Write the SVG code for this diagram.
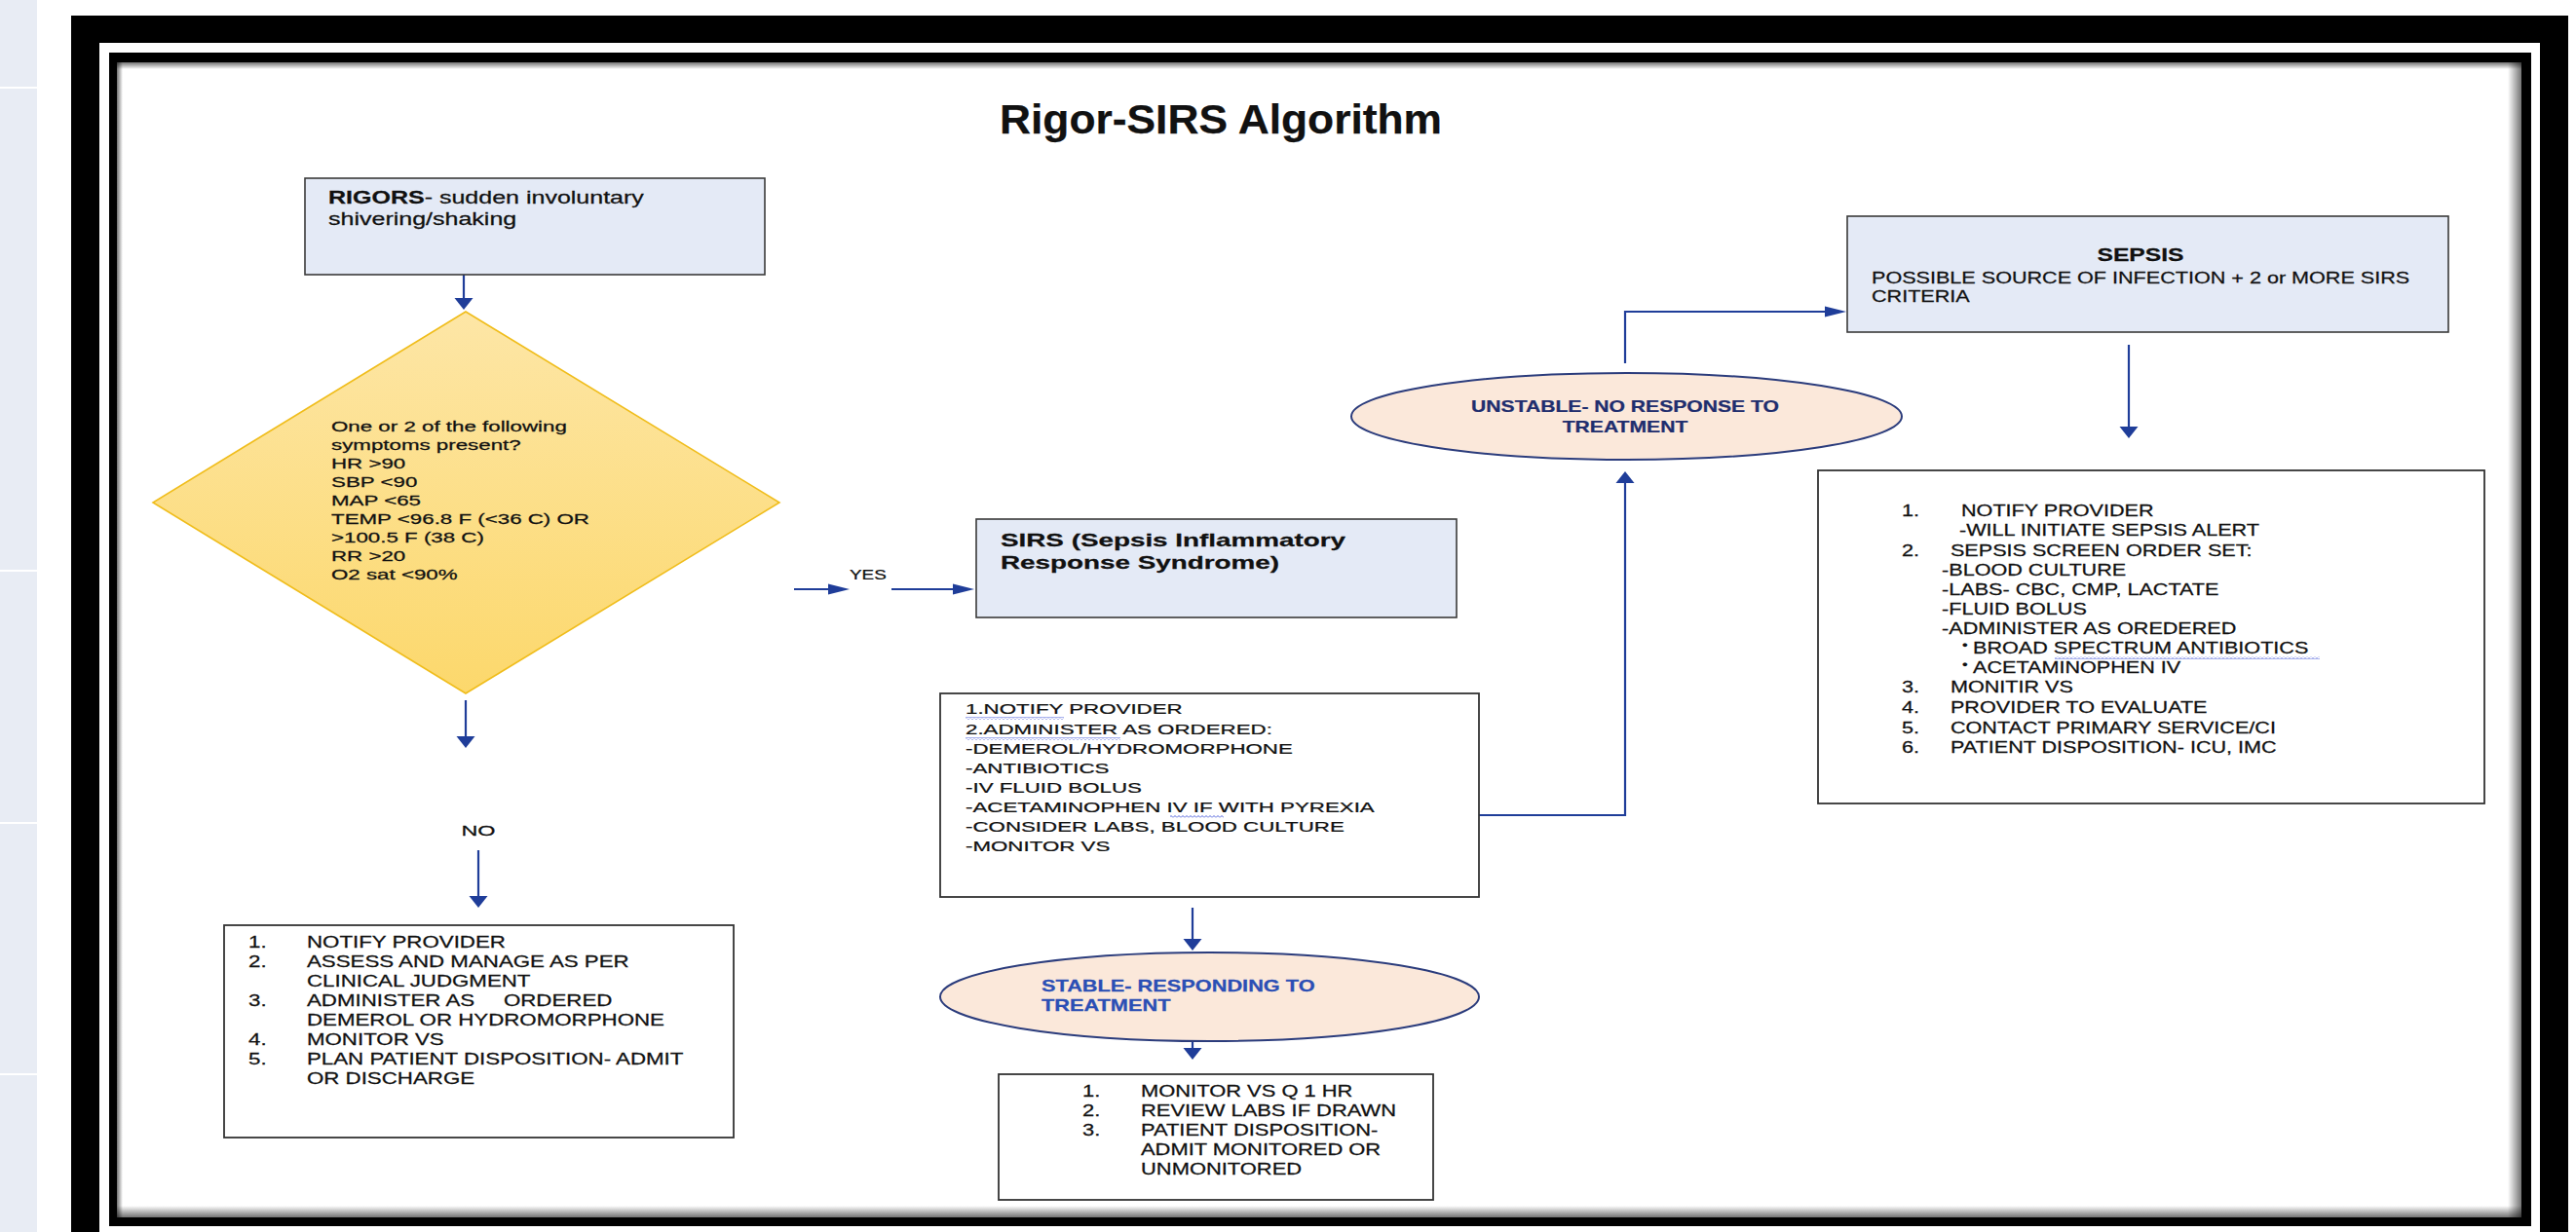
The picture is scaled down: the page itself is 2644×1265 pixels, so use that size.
<svg xmlns="http://www.w3.org/2000/svg" width="2644" height="1265" viewBox="0 0 2644 1265">
<style>
text{font-family:"Liberation Sans",Arial,sans-serif;fill:#111;stroke:#111;stroke-width:0.25}
.b{font-weight:bold}
.conn{fill:none;stroke:#1f3d99;stroke-width:2.2}
.box{fill:#e4eaf6;stroke:#3a3a3a;stroke-width:1.6}
.pbox{fill:#fff;stroke:#333;stroke-width:1.8}
.ell{fill:#fbe8da;stroke:#2b3c7c;stroke-width:2}
.wv{fill:url(#wave)}
</style>
<defs>
<marker id="av" markerUnits="userSpaceOnUse" markerWidth="12" markerHeight="20" viewBox="0 0 12 20" refX="8" refY="10" orient="auto"><path d="M0,0.5 L12,10 L0,19.5 z" fill="#1f3d99"/></marker>
<marker id="ah" markerUnits="userSpaceOnUse" markerWidth="22" markerHeight="12" viewBox="0 0 22 12" refX="16" refY="6" orient="auto"><path d="M0,0.5 L22,6 L0,11.5 z" fill="#1f3d99"/></marker>
<linearGradient id="dia" x1="0" y1="0" x2="0" y2="1"><stop offset="0" stop-color="#fde6a6"/><stop offset="1" stop-color="#fcd86c"/></linearGradient>
<linearGradient id="shT" x1="0" y1="0" x2="0" y2="1"><stop offset="0" stop-color="#000" stop-opacity="0.55"/><stop offset="1" stop-color="#000" stop-opacity="0"/></linearGradient>
<linearGradient id="shB" x1="0" y1="1" x2="0" y2="0"><stop offset="0" stop-color="#000" stop-opacity="0.55"/><stop offset="1" stop-color="#000" stop-opacity="0"/></linearGradient>
<linearGradient id="shL" x1="0" y1="0" x2="1" y2="0"><stop offset="0" stop-color="#000" stop-opacity="0.55"/><stop offset="1" stop-color="#000" stop-opacity="0"/></linearGradient>
<linearGradient id="shR" x1="1" y1="0" x2="0" y2="0"><stop offset="0" stop-color="#000" stop-opacity="0.55"/><stop offset="1" stop-color="#000" stop-opacity="0"/></linearGradient>
<pattern id="wave" patternUnits="userSpaceOnUse" width="4" height="3"><path d="M0,2.5 L2,0.5 L4,2.5" fill="none" stroke="#3f55d8" stroke-width="0.9"/></pattern>
</defs>

<rect x="0" y="0" width="2644" height="1265" fill="#fff"/>
<g id="sidebar">
<rect x="0" y="0" width="38" height="1265" fill="#e8ecf4"/>
<rect x="0" y="89" width="38" height="2" fill="#fff"/>
<rect x="0" y="585" width="38" height="2" fill="#fff"/>
<rect x="0" y="844" width="38" height="2" fill="#fff"/>
<rect x="0" y="1102" width="38" height="2" fill="#fff"/>
</g>
<g id="frame">
<rect x="73" y="16" width="2563" height="1260" fill="#000"/>
<rect x="102" y="44" width="2505" height="1230" fill="#fff"/>
<rect x="112" y="54" width="2486" height="1205" fill="#000"/>
<rect x="120" y="64" width="2468" height="1186" fill="#fff"/>
<rect x="120" y="64" width="2468" height="7" fill="url(#shT)"/>
<rect x="120" y="64" width="6" height="1186" fill="url(#shL)"/>
<rect x="2574" y="64" width="14" height="1186" fill="url(#shR)"/>
<rect x="120" y="1238" width="2468" height="12" fill="url(#shB)"/>
</g>

<g id="title"><text class="b" x="1026" y="137" font-size="42" textLength="454" lengthAdjust="spacingAndGlyphs">Rigor-SIRS Algorithm</text></g>

<g id="connectors">
<path class="conn" d="M476,282 V314" marker-end="url(#av)"/>
<path class="conn" d="M478,719 V764" marker-end="url(#av)"/>
<path class="conn" d="M491,873 V928" marker-end="url(#av)"/>
<path class="conn" d="M815,605 H866" marker-end="url(#ah)"/>
<path class="conn" d="M915,605 H994" marker-end="url(#ah)"/>
<path class="conn" d="M1518,837 H1668 V488" marker-end="url(#av)"/>
<path class="conn" d="M1668,373 V320 H1889" marker-end="url(#ah)"/>
<path class="conn" d="M2185,354 V446" marker-end="url(#av)"/>
<path class="conn" d="M1224,932 V972" marker-end="url(#av)"/>
<path class="conn" d="M1224,1069 V1084" marker-end="url(#av)"/>
<text transform="translate(872,0) scale(1.26,1)" x="0" y="595" font-size="15">YES</text>
<text transform="translate(491,0) scale(1.56,1)" x="0" y="858" font-size="15" text-anchor="middle">NO</text>
</g>

<g id="rigors">
<rect class="box" x="313" y="183" width="472" height="99"/>
<text transform="translate(337,0) scale(1.43,1)" font-size="17.5"><tspan x="0" y="209"><tspan class="b">RIGORS</tspan>- sudden involuntary</tspan><tspan x="0" y="231">shivering/shaking</tspan></text>
</g>

<g id="decision">
<polygon points="478,320 800,516 478,712 157,516" fill="url(#dia)" stroke="#f0bd1c" stroke-width="1.6"/>
<text transform="translate(340,0) scale(1.54,1)" font-size="14.5">
<tspan x="0" y="443">One or 2 of the following</tspan>
<tspan x="0" y="462">symptoms present?</tspan>
<tspan x="0" y="481">HR &gt;90</tspan>
<tspan x="0" y="500">SBP &lt;90</tspan>
<tspan x="0" y="519">MAP &lt;65</tspan>
<tspan x="0" y="538">TEMP &lt;96.8 F (&lt;36 C) OR</tspan>
<tspan x="0" y="557">&gt;100.5 F (38 C)</tspan>
<tspan x="0" y="576">RR &gt;20</tspan>
<tspan x="0" y="595">O2 sat &lt;90%</tspan>
</text>
</g>

<g id="sirs">
<rect class="box" x="1002" y="533" width="493" height="101"/>
<text class="b" transform="translate(1027,0) scale(1.59,1)" font-size="17.5"><tspan x="0" y="561">SIRS (Sepsis Inflammatory</tspan><tspan x="0" y="584">Response  Syndrome)</tspan></text>
</g>

<g id="no-actions">
<rect class="pbox" x="230" y="950" width="523" height="218"/>
<text transform="translate(255,0) scale(1.36,1)" font-size="16.4">
<tspan x="0" y="973">1.</tspan><tspan x="44.1" y="973">NOTIFY PROVIDER</tspan>
<tspan x="0" y="993">2.</tspan><tspan x="44.1" y="993">ASSESS AND MANAGE AS PER</tspan>
<tspan x="44.1" y="1013">CLINICAL JUDGMENT</tspan>
<tspan x="0" y="1033">3.</tspan><tspan x="44.1" y="1033">ADMINISTER AS</tspan><tspan x="192.6" y="1033">ORDERED</tspan>
<tspan x="44.1" y="1053">DEMEROL OR HYDROMORPHONE</tspan>
<tspan x="0" y="1073">4.</tspan><tspan x="44.1" y="1073">MONITOR VS</tspan>
<tspan x="0" y="1093">5.</tspan><tspan x="44.1" y="1093">PLAN PATIENT DISPOSITION- ADMIT</tspan>
<tspan x="44.1" y="1113">OR DISCHARGE</tspan>
</text>
</g>

<g id="treatment">
<rect class="pbox" x="965" y="712" width="553" height="209"/>
<text transform="translate(991,0) scale(1.44,1)" font-size="15.5">
<tspan x="0" y="733">1.NOTIFY PROVIDER</tspan>
<tspan x="0" y="754">2.ADMINISTER AS ORDERED:</tspan>
<tspan x="0" y="774">-DEMEROL/HYDROMORPHONE</tspan>
<tspan x="0" y="794">-ANTIBIOTICS</tspan>
<tspan x="0" y="814">-IV FLUID BOLUS</tspan>
<tspan x="0" y="834">-ACETAMINOPHEN IV  IF WITH  PYREXIA</tspan>
<tspan x="0" y="854">-CONSIDER LABS, BLOOD CULTURE</tspan>
<tspan x="0" y="874">-MONITOR VS</tspan>
</text>
<rect class="wv" x="991" y="736" width="101" height="3"/>
<rect class="wv" x="991" y="757" width="159" height="3"/>
<rect class="wv" x="1201" y="837" width="55" height="3"/>
</g>

<g id="stable">
<ellipse class="ell" cx="1241.5" cy="1023.5" rx="276.5" ry="45.5"/>
<text class="b" transform="translate(1069,0) scale(1.36,1)" font-size="16" style="fill:#2b4fb5;stroke:#2b4fb5"><tspan x="0" y="1018">STABLE- RESPONDING TO</tspan><tspan x="0" y="1038">TREATMENT</tspan></text>
</g>

<g id="stable-actions">
<rect class="pbox" x="1025" y="1103" width="446" height="129"/>
<text transform="translate(1111,0) scale(1.37,1)" font-size="16">
<tspan x="0" y="1126">1.</tspan><tspan x="43.8" y="1126">MONITOR VS Q 1 HR</tspan>
<tspan x="0" y="1146">2.</tspan><tspan x="43.8" y="1146">REVIEW LABS IF DRAWN</tspan>
<tspan x="0" y="1166">3.</tspan><tspan x="43.8" y="1166">PATIENT DISPOSITION-</tspan>
<tspan x="43.8" y="1186">ADMIT MONITORED OR</tspan>
<tspan x="43.8" y="1206">UNMONITORED</tspan>
</text>
</g>

<g id="unstable">
<ellipse class="ell" cx="1669.5" cy="427.5" rx="282.5" ry="44.5"/>
<text class="b" transform="translate(1668,0) scale(1.32,1)" font-size="16" text-anchor="middle" style="fill:#1f2e6e;stroke:#1f2e6e"><tspan x="0" y="423">UNSTABLE- NO RESPONSE TO</tspan><tspan x="0" y="444">TREATMENT</tspan></text>
</g>

<g id="sepsis">
<rect class="box" x="1896" y="222" width="617" height="119"/>
<text class="b" transform="translate(2197,0) scale(1.37,1)" x="0" y="268" font-size="18" text-anchor="middle">SEPSIS</text>
<text transform="translate(1921,0) scale(1.27,1)" font-size="17"><tspan x="0" y="291">POSSIBLE SOURCE OF INFECTION + 2 or MORE SIRS</tspan><tspan x="0" y="310">CRITERIA</tspan></text>
</g>

<g id="sepsis-actions">
<rect class="pbox" x="1866" y="483" width="684" height="342"/>
<text transform="translate(1952,0) scale(1.35,1)" font-size="16">
<tspan x="0" y="530">1.</tspan><tspan x="45.2" y="530">NOTIFY PROVIDER</tspan>
<tspan x="43.7" y="550">-WILL INITIATE SEPSIS ALERT</tspan>
<tspan x="0" y="571">2.</tspan><tspan x="37" y="571">SEPSIS SCREEN ORDER SET:</tspan>
<tspan x="30.4" y="591">-BLOOD CULTURE</tspan>
<tspan x="30.4" y="611">-LABS- CBC, CMP, LACTATE</tspan>
<tspan x="30.4" y="631">-FLUID BOLUS</tspan>
<tspan x="30.4" y="651">-ADMINISTER AS OREDERED</tspan>
<tspan x="45.9" y="667" font-size="12">•</tspan><tspan x="54.1" y="671">BROAD SPECTRUM  ANTIBIOTICS</tspan>
<tspan x="45.9" y="687" font-size="12">•</tspan><tspan x="54.1" y="691">ACETAMINOPHEN IV</tspan>
<tspan x="0" y="711">3.</tspan><tspan x="37" y="711">MONITIR VS</tspan>
<tspan x="0" y="732">4.</tspan><tspan x="37" y="732">PROVIDER TO EVALUATE</tspan>
<tspan x="0" y="753">5.</tspan><tspan x="37" y="753">CONTACT PRIMARY SERVICE/CI</tspan>
<tspan x="0" y="773">6.</tspan><tspan x="37" y="773">PATIENT DISPOSITION- ICU, IMC</tspan>
</text>
<rect class="wv" x="2109" y="674" width="272" height="3"/>
</g>
</svg>
